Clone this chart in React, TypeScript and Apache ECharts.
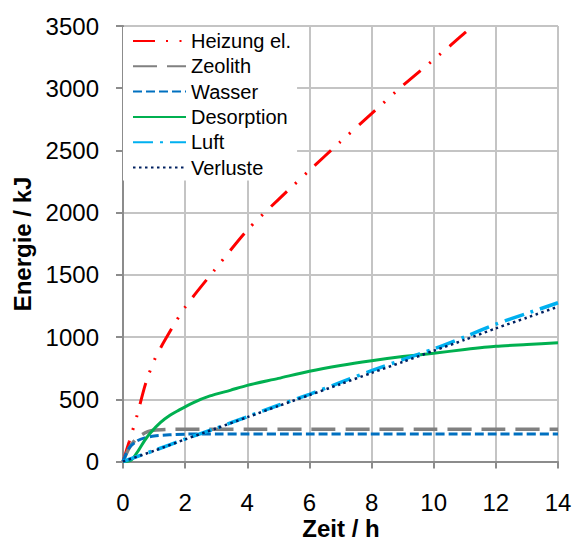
import React, { useEffect, useRef } from "react";
import * as echarts from "echarts";

const seriesNames = ["Heizung el.", "Zeolith", "Wasser", "Desorption", "Luft", "Verluste"];

const heizungT = [0, 0.2, 0.43, 0.72, 1.0, 1.36, 2, 3, 4, 5, 6, 7, 8, 9, 10, 10.5, 11, 11.25];
const heizungV = [0, 160, 350, 620, 810, 980, 1240, 1555, 1860, 2105, 2340, 2570, 2795, 3020, 3230, 3335, 3445, 3500];

const zeolithT = [0, 0.2, 0.4, 0.6, 0.8, 1.0, 1.5, 2, 4, 6, 8, 10, 12, 14];
const zeolithV = [0, 110, 175, 215, 240, 252, 258, 260, 260, 260, 260, 260, 260, 260];

const wasserT = [0, 0.2, 0.45, 0.7, 1.0, 1.5, 2, 3, 6, 8, 10, 12, 14];
const wasserV = [0, 110, 165, 190, 205, 215, 220, 222, 222, 222, 222, 222, 222];

const desorptionT = [0, 0.2, 0.3, 0.5, 0.7, 0.9, 1.2, 1.5, 1.75, 2.25, 2.8, 3.45, 4, 5, 6, 7, 8, 9, 10, 11, 12, 13, 14];
const desorptionV = [0, 5, 20, 90, 170, 235, 313, 370, 406, 472, 527, 572, 612, 668, 726, 772, 810, 843, 870, 900, 926, 940, 954];

const luftT = [0, 1, 2, 3, 4, 5, 6, 7, 8, 9, 10, 11, 12, 13, 14];
const luftV = [0, 88, 180, 268, 360, 452, 540, 635, 730, 818, 904, 1002, 1104, 1190, 1276];

const verlusteT = [0, 1, 2, 3, 4, 5, 6, 7, 8, 9, 10, 11, 12, 13, 14];
const verlusteV = [0, 86, 178, 266, 356, 446, 534, 622, 712, 800, 890, 978, 1070, 1156, 1244];

const xTicks = [0, 2, 4, 6, 8, 10, 12, 14];
const yTicks = [0, 500, 1000, 1500, 2000, 2500, 3000, 3500];

const FONT = "'Liberation Sans', Arial, sans-serif";

function pairs(t: number[], v: number[]) {
  return t.map((x, i) => [x, v[i]]);
}

export default function App() {
  const ref = useRef<HTMLDivElement>(null);
  useEffect(() => {
    if (!ref.current) return;
    const chart = echarts.init(ref.current, undefined, { renderer: "svg" });
    const mk = (name: string, t: number[], v: number[], color: string, width: number, type: any) => ({
      name,
      type: "line",
      data: pairs(t, v),
      showSymbol: false,
      symbol: "none",
      smooth: 0.25,
      color,
      lineStyle: { color, width, type, cap: "butt" },
      emphasis: { disabled: true },
      z: 3,
    });
    chart.setOption({
      animation: false,
      grid: { left: 123, top: 26, right: 17, bottom: 78.5 },
      xAxis: {
        type: "value",
        min: xTicks[0],
        max: xTicks[xTicks.length - 1],
        interval: 2,
        axisLine: { show: true, onZero: false, lineStyle: { color: "#8c8c8c", width: 2 } },
        axisTick: { show: true, inside: false, length: 7, lineStyle: { color: "#8c8c8c", width: 2 } },
        axisLabel: { color: "#000", fontSize: 24, fontFamily: FONT, margin: 29, formatter: (v: number) => String(v) },
        splitLine: { show: true, lineStyle: { color: "#c4c4c4", width: 2 } },
      },
      yAxis: {
        type: "value",
        min: yTicks[0],
        max: yTicks[yTicks.length - 1],
        interval: 500,
        axisLine: { show: true, onZero: false, lineStyle: { color: "#8c8c8c", width: 2 } },
        axisTick: { show: true, inside: false, length: 7, lineStyle: { color: "#8c8c8c", width: 2 } },
        axisLabel: { color: "#000", fontSize: 24, fontFamily: FONT, margin: 24, formatter: (v: number) => String(v) },
        splitLine: { show: true, lineStyle: { color: "#c4c4c4", width: 2 } },
      },
      legend: {
        show: true,
        orient: "vertical",
        left: 123,
        top: 27,
        padding: [4, 6, 3, 9],
        backgroundColor: "#ffffff",
        itemWidth: 53,
        itemHeight: 20,
        itemGap: 5.3,
        selectedMode: false,
        itemStyle: { opacity: 0, borderWidth: 0 },
        textStyle: { fontSize: 20, fontFamily: FONT, color: "#000", padding: [0, 0, 0, 0], lineHeight: 20 },
        data: seriesNames,
      },
      graphic: [
        {
          type: "text",
          x: 22,
          y: 244,
          rotation: Math.PI / 2,
          style: { text: "Energie / kJ", font: `bold 24px ${FONT}`, fill: "#000", align: "center", verticalAlign: "middle" },
        },
        {
          type: "text",
          x: 341,
          y: 528,
          style: { text: "Zeit / h", font: `bold 24px ${FONT}`, fill: "#000", align: "center", verticalAlign: "middle" },
        },
      ],
      series: [
        mk(seriesNames[0], heizungT, heizungV, "#ff0000", 3, [22, 11, 2, 11.5, 2, 11.5]),
        mk(seriesNames[1], zeolithT, zeolithV, "#808080", 3.5, [24, 10]),
        mk(seriesNames[2], wasserT, wasserV, "#0070c0", 3, [9, 4]),
        mk(seriesNames[3], desorptionT, desorptionV, "#00b050", 3, "solid"),
        mk(seriesNames[4], luftT, luftV, "#00b0f0", 3.5, [20, 7, 3, 7]),
        mk(seriesNames[5], verlusteT, verlusteV, "#002060", 2.5, [2.5, 3.5]),
      ],
    });
    return () => chart.dispose();
  }, []);
  return <div ref={ref} style={{ position: "absolute", left: 0, top: 0, width: 575, height: 540 }} />;
}
